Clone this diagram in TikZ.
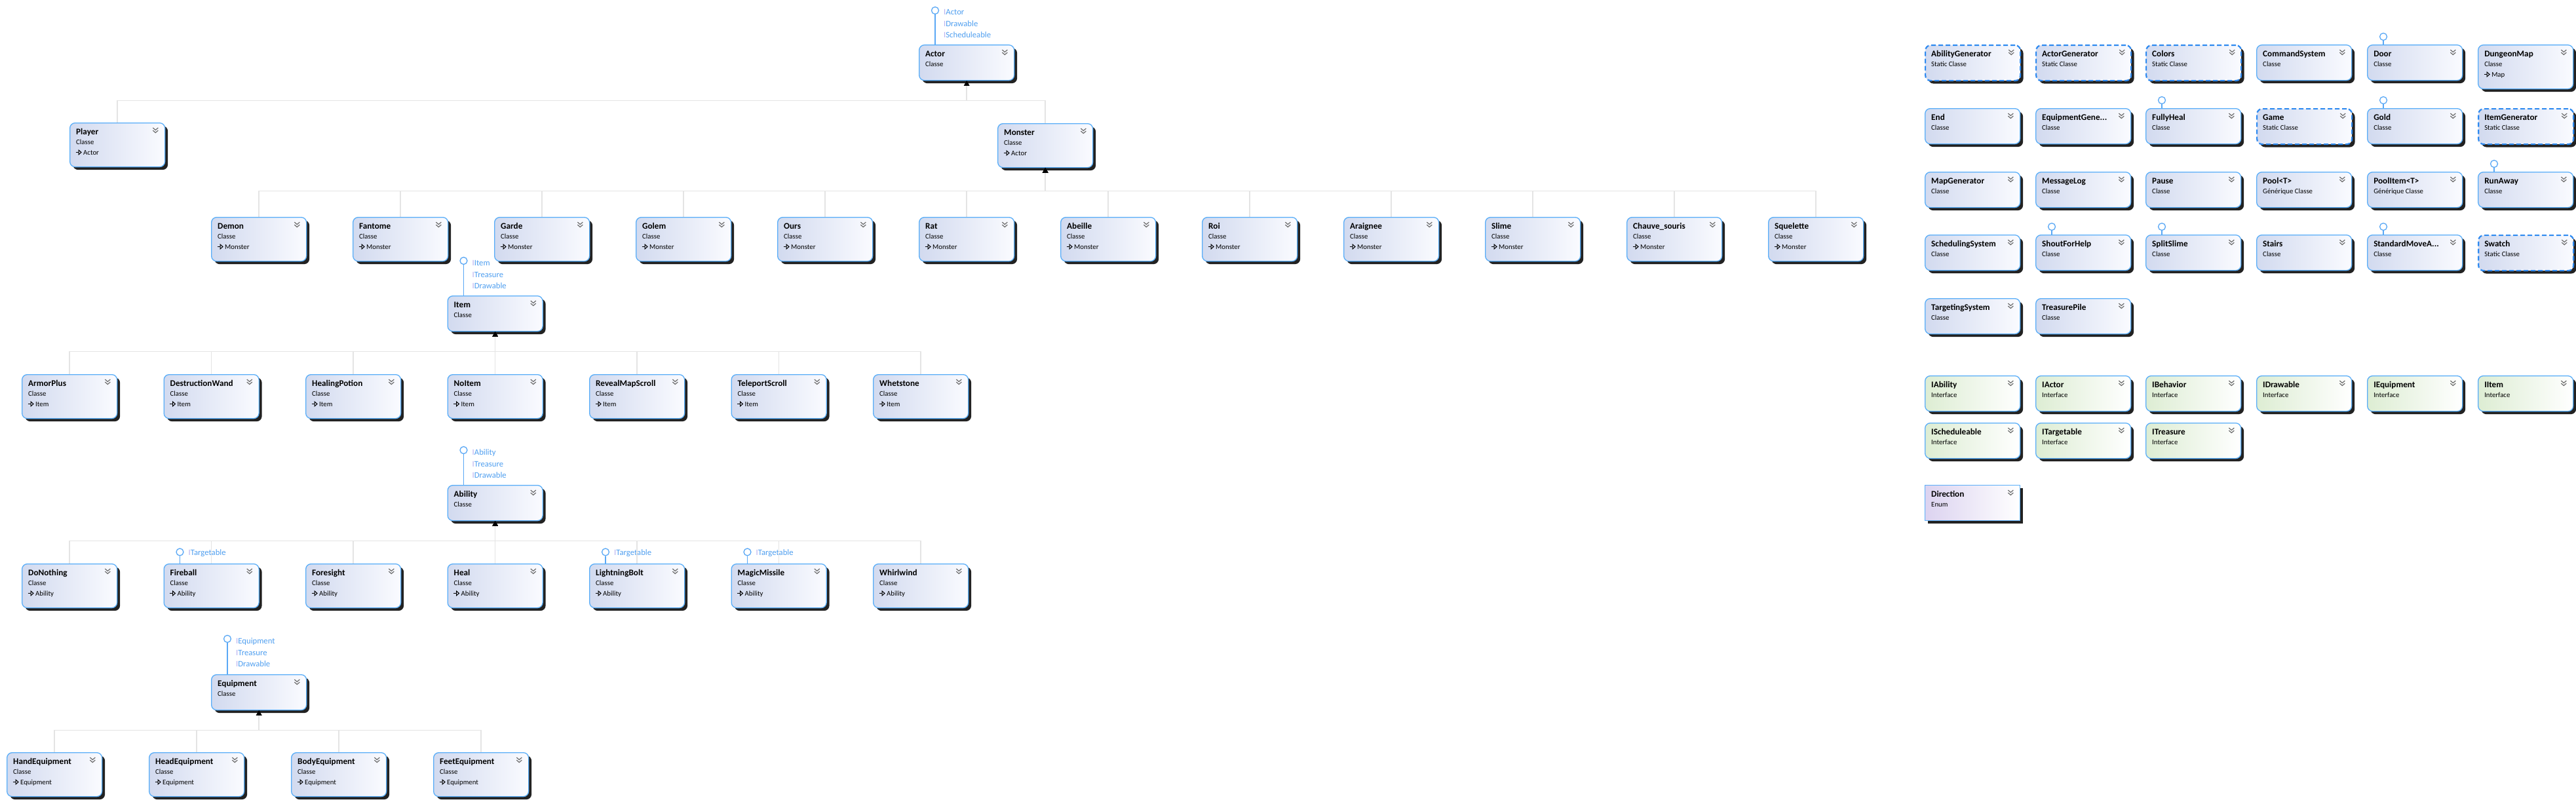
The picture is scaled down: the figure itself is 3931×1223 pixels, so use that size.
\documentclass[tikz,border=0pt]{standalone}
\usepackage{fontspec}
\setmainfont{Carlito}
\usetikzlibrary{calc,shadows,arrows.meta}
\definecolor{cBord}{HTML}{5AAEF8}
\definecolor{cSBord}{HTML}{2E8AF0}
\definecolor{cClsL}{HTML}{D2DAEF}
\definecolor{cClsR}{HTML}{FAFBFF}
\definecolor{cIfL}{HTML}{DDEDD3}
\definecolor{cEnL}{HTML}{DCD3F0}
\definecolor{cConn}{HTML}{E4E4E4}
\definecolor{cLol}{HTML}{5AA8F5}
\definecolor{cLolT}{HTML}{4F9FF0}
\definecolor{cLolI}{HTML}{B8B0F0}
\definecolor{cChev}{HTML}{6E6E6E}
\definecolor{cShad}{HTML}{222222}
\tikzset{
 boxbase/.style={rectangle, minimum width=145pt, inner sep=0pt, anchor=north west, rounded corners=8pt, draw=cBord, line width=1.3pt, general shadow={fill=cShad, shadow xshift=4.5pt, shadow yshift=-4.5pt}},
 two/.style={minimum height=54pt},
 three/.style={minimum height=67pt},
 cls/.style={boxbase, left color=cClsL, right color=cClsR},
 scls/.style={cls, draw=cSBord, line width=2.2pt, dash pattern=on 7pt off 4pt},
 ifc/.style={boxbase, left color=cIfL, right color=white},
 enm/.style={boxbase, rounded corners=0pt, left color=cEnL, right color=white},
 ttl/.style={anchor=base west, inner sep=0pt, font=\fontsize{13.2}{15}\selectfont\bfseries},
 subt/.style={anchor=base west, inner sep=0pt, font=\fontsize{10.8}{13}\selectfont},
 chev/.style={draw=cChev, line width=1.2pt},
 inhline/.style={draw=cConn, line width=1.4pt, -{Triangle[width=8.5pt,length=7.5pt,color=black,line width=0pt]}},
 lolcirc/.style={circle, draw=cLol, fill=white, line width=1.3pt, minimum size=11pt, inner sep=0pt},
 lolstem/.style={draw=cLol, line width=1.3pt},
 loltxt/.style={anchor=base west, inner sep=0pt, text=cLolT, font=\fontsize{12.7}{15}\selectfont},
}
\newcommand\ifn[1]{{\color{cLolI}I}#1}
\newcommand\bx[6]{%
 \node[#4] (#1) at (#2,#3) {};
 \node[ttl] (#1-t) at ($(#1.north west)+(10,18.5)$) {#5};
 \node[subt] (#1-s) at ($(#1.north west)+(10,33.5)$) {#6};
 \draw[chev] ($(#1.north east)+(-19,8)$) -- ++(4,3.5) -- ++(4,-3.5);
 \draw[chev] ($(#1.north east)+(-19,12)$) -- ++(4,3.5) -- ++(4,-3.5);
}
\newcommand\bxp[2]{%
 \draw[line width=1.1pt] ($(#1.north west)+(9.5,45.5)$) -- ++(4.5,0);
 \draw[line width=1pt] ($(#1.north west)+(14,42)$) -- ++(4,3.5) -- ++(-4,3.5) -- cycle;
 \node[subt] (#1-p) at ($(#1.north west)+(21,49.5)$) {#2};
}
\newcommand\lol[3]{%
 \node[lolcirc] (#1) at ($(#2.north west)+(25,-#3)$) {};
 \draw[lolstem] (#1.south) -- (#1.south |- #2.north);
}
\newcommand\lollab[3]{\node[loltxt] at ($(#1)+(13,#2)$) {#3};}
\newcommand\inh[3]{\draw[inhline] (#2.north) |- ($(#1.south)+(0,#3)$) -- (#1.south);}
\begin{document}
\begin{tikzpicture}[x=1pt,y=-1pt]
\useasboundingbox[fill=white] (0,0) rectangle (3931,1223);
% ---------- Actor tree
\bx{actor}{1402}{68}{cls,two}{Actor}{Classe}
\lol{lActor}{actor}{52}
\lollab{lActor}{7}{\ifn{Actor}}
\lollab{lActor}{24.5}{\ifn{Drawable}}
\lollab{lActor}{42}{\ifn{Scheduleable}}
\bx{player}{106}{187}{cls,three}{Player}{Classe}\bxp{player}{Actor}
\bx{monster}{1522}{188}{cls,three}{Monster}{Classe}\bxp{monster}{Actor}
% monsters
\foreach \n/\t [count=\k from 0] in {demon/Demon,fantome/Fantome,garde/Garde,golem/Golem,ours/Ours,rat/Rat,abeille/Abeille,roi/Roi,araignee/Araignee,slime/Slime,chauve/Chauve\_souris,squelette/Squelette}{
 \pgfmathsetmacro\xx{322+216*\k}
 \bx{\n}{\xx}{331}{cls,three}{\t}{Classe}\bxp{\n}{Monster}
}
% ---------- Item tree
\bx{item}{682.5}{451}{cls,two}{Item}{Classe}
\lol{lItem}{item}{53}
\lollab{lItem}{7.5}{\ifn{Item}}
\lollab{lItem}{25}{\ifn{Treasure}}
\lollab{lItem}{42.5}{\ifn{Drawable}}
\foreach \n/\t [count=\k from 0] in {armor/ArmorPlus,dwand/DestructionWand,hpot/HealingPotion,noitem/NoItem,reveal/RevealMapScroll,teleport/TeleportScroll,whet/Whetstone}{
 \pgfmathsetmacro\xx{33+216.5*\k}
 \bx{\n}{\xx}{571}{cls,three}{\t}{Classe}\bxp{\n}{Item}
}
% ---------- Ability tree
\bx{ability}{682.5}{740}{cls,two}{Ability}{Classe}
\lol{lAbility}{ability}{53}
\lollab{lAbility}{7.5}{\ifn{Ability}}
\lollab{lAbility}{25}{\ifn{Treasure}}
\lollab{lAbility}{42.5}{\ifn{Drawable}}
\foreach \n/\t [count=\k from 0] in {donothing/DoNothing,fireball/Fireball,foresight/Foresight,heal/Heal,lightning/LightningBolt,magic/MagicMissile,whirl/Whirlwind}{
 \pgfmathsetmacro\xx{33+216.5*\k}
 \bx{\n}{\xx}{860}{cls,three}{\t}{Classe}\bxp{\n}{Ability}
}
\foreach \n in {fireball,lightning,magic}{
 \lol{l\n}{\n}{17.5}
 \lollab{l\n}{4.5}{\ifn{Targetable}}
}
% ---------- Equipment tree
\bx{equip}{322}{1029}{cls,two}{Equipment}{Classe}
\lol{lEquip}{equip}{54}
\lollab{lEquip}{7.5}{\ifn{Equipment}}
\lollab{lEquip}{25}{\ifn{Treasure}}
\lollab{lEquip}{42.5}{\ifn{Drawable}}
\foreach \n/\t [count=\k from 0] in {hand/HandEquipment,head/HeadEquipment,body/BodyEquipment,feet/FeetEquipment}{
 \pgfmathsetmacro\xx{10+217*\k}
 \bx{\n}{\xx}{1148}{cls,three}{\t}{Classe}\bxp{\n}{Equipment}
}
% ---------- inheritance connectors
\foreach \c in {player,monster}{\inh{actor}{\c}{30}}
\foreach \c in {demon,fantome,garde,golem,ours,rat,abeille,roi,araignee,slime,chauve,squelette}{\inh{monster}{\c}{35}}
\foreach \c in {armor,dwand,hpot,noitem,reveal,teleport,whet}{\inh{item}{\c}{30}}
\foreach \c in {donothing,fireball,foresight,heal,lightning,magic,whirl}{\inh{ability}{\c}{30}}
\foreach \c in {hand,head,body,feet}{\inh{equip}{\c}{30}}
% ---------- right panel
\bx{abilgen}{2937}{68}{scls,two}{AbilityGenerator}{Static Classe}
\bx{actorgen}{3106}{68}{scls,two}{ActorGenerator}{Static Classe}
\bx{colors}{3274}{68}{scls,two}{Colors}{Static Classe}
\bx{cmdsys}{3443}{68}{cls,two}{CommandSystem}{Classe}
\bx{door}{3612}{68}{cls,two}{Door}{Classe}\lol{lDoor}{door}{12}
\bx{dmap}{3781}{68}{cls,three}{DungeonMap}{Classe}\bxp{dmap}{Map}
\bx{endc}{2937}{165}{cls,two}{End}{Classe}
\bx{equipgen}{3106}{165}{cls,two}{EquipmentGene...}{Classe}
\bx{fullyheal}{3274}{165}{cls,two}{FullyHeal}{Classe}\lol{lFully}{fullyheal}{12}
\bx{game}{3443}{165}{scls,two}{Game}{Static Classe}
\bx{gold}{3612}{165}{cls,two}{Gold}{Classe}\lol{lGold}{gold}{12}
\bx{itemgen}{3781}{165}{scls,two}{ItemGenerator}{Static Classe}
\bx{mapgen}{2937}{262}{cls,two}{MapGenerator}{Classe}
\bx{msglog}{3106}{262}{cls,two}{MessageLog}{Classe}
\bx{pause}{3274}{262}{cls,two}{Pause}{Classe}
\bx{pool}{3443}{262}{cls,two}{Pool<T>}{Générique Classe}
\bx{poolitem}{3612}{262}{cls,two}{PoolItem<T>}{Générique Classe}
\bx{runaway}{3781}{262}{cls,two}{RunAway}{Classe}\lol{lRun}{runaway}{12}
\bx{schedsys}{2937}{358}{cls,two}{SchedulingSystem}{Classe}
\bx{shout}{3106}{358}{cls,two}{ShoutForHelp}{Classe}\lol{lShout}{shout}{12}
\bx{split}{3274}{358}{cls,two}{SplitSlime}{Classe}\lol{lSplit}{split}{12}
\bx{stairs}{3443}{358}{cls,two}{Stairs}{Classe}
\bx{stdmove}{3612}{358}{cls,two}{StandardMoveA...}{Classe}\lol{lStd}{stdmove}{12}
\bx{swatch}{3781}{358}{scls,two}{Swatch}{Static Classe}
\bx{targsys}{2937}{455}{cls,two}{TargetingSystem}{Classe}
\bx{tpile}{3106}{455}{cls,two}{TreasurePile}{Classe}
\bx{iability}{2937}{573}{ifc,two}{IAbility}{Interface}
\bx{iactor}{3106}{573}{ifc,two}{IActor}{Interface}
\bx{ibehavior}{3274}{573}{ifc,two}{IBehavior}{Interface}
\bx{idrawable}{3443}{573}{ifc,two}{IDrawable}{Interface}
\bx{iequipment}{3612}{573}{ifc,two}{IEquipment}{Interface}
\bx{iitem}{3781}{573}{ifc,two}{IItem}{Interface}
\bx{isched}{2937}{645}{ifc,two}{IScheduleable}{Interface}
\bx{itarget}{3106}{645}{ifc,two}{ITargetable}{Interface}
\bx{itreasure}{3274}{645}{ifc,two}{ITreasure}{Interface}
\bx{direction}{2937}{740}{enm,two}{Direction}{Enum}
\end{tikzpicture}
\end{document}
